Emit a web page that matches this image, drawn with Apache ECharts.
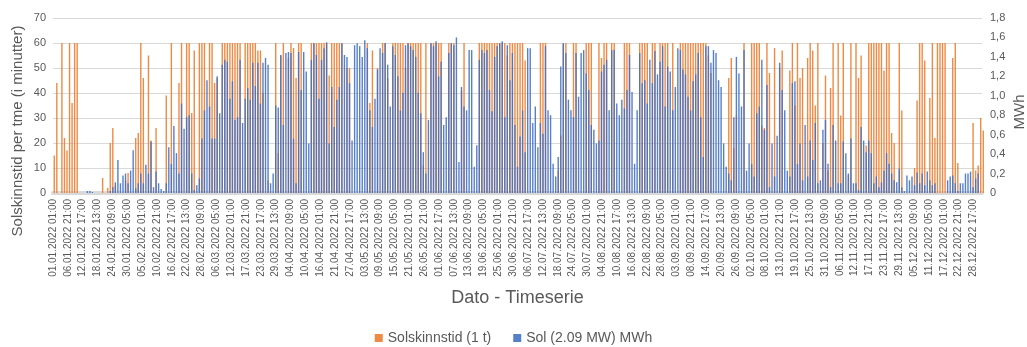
<!DOCTYPE html>
<html><head><meta charset="utf-8">
<script src="https://cdn.jsdelivr.net/npm/echarts@6/dist/echarts.min.js"></script>
<style>html,body{margin:0;padding:0;background:#fff}#c{width:1027px;height:347px}</style>
</head><body><div id="c"></div>
<script>
// Daily readings (one value per day of 2022)
var sunMinutes = [
15,44,0,60,22,17,60,36,60,60, 0,0,0,0,0,0,0,0,0,6, 0,2,20,26,3,0,0,0,5,8,
0,0,22,24,60,46, 0,55,21,0,26,0,0,0,39,0, 60,0,0,44,60,0,60,60,32,57, 0,60,60,60,0,60,60,44,46,0,
60,60,60,60,60,60,60, 60,0,60,60,60,60,60,57,57,40, 0,5,0,0,60,16,55,60,0,54, 60,58,46,60,60,0,0,0,60,60,
60,60,60,60,60,47,60,60, 60,60,60,0,50,50,0,0,0,0, 0,0,60,36,57,0,50,0,60,60, 46,0,60,60,60,60,60,50,60,60,
60,60,60,60,11,60,0, 60,60,60,60,60,0,0,60,60,60, 0,0,41,60,0,0,0,0,0,60, 60,60,60,60,60,60,60,60,60,60,
55,60,60,60,60,60,60,53, 0,0,0,0,0,60,60,60,0,0, 0,0,9,23,60,60,0,0,60,60, 0,0,0,60,60,60,0,0,60,54,
60,60,0,60,60,0,0,0, 60,60,60,0,0,0,60,60,60,60, 0,60,60,0,60,60,60,60,0,60, 0,0,60,60,60,60,60,60,60,60,
60,60,60,55,48,0,0,0,0,0, 0,46,54,18,31,0,0,60,0,0, 60,60,60,60,27,26,60,48,0,58, 0,50,57,0,0,49,60,35,60,46,
50,0,54,60,57,35,60,0, 20,47,9,42,60,0,60,31,60,0, 7,60,0,60,46,55,0,19,60,60, 60,60,60,60,49,60,60,24,20,0,
60,33,0,0,0,0,10, 37,60,60,53,0,38,60,22,60,60, 60,60,0,0,54,60,12,0,0,0, 0,0,28,9,11,30,25,10,0,0
];
var solarMWh = [
0,0,0,0,0,0,0,0,0,0, 0,0,0,0.02,0.02,0.01,0,0,0,0, 0,0,0.02,0.06,0.11,0.34,0.1,0.18,0.2,0.1,
0.23,0.44,0.05,0.1,0.2,0.1, 0.29,0.2,0.53,0.06,0.22,0.1,0.04,0.02,0.1,0.47, 0.3,0.69,0.41,0.2,0.92,0.66,0.78,0.8,0.2,0.03, 0.08,0.15,0.56,0.85,1.16,0.89,0.56,0.56,1.2,0.82,
1.32,1.37,1.35,0.97,1.15,0.75,0.78, 1.37,0.72,0.97,1.08,0.96,1.34,1.1,1.34,0.92,1.34, 1.39,1.32,0.1,0.2,0.9,0.88,1.42,0.7,1.44,1.45, 1.44,0.56,0.1,1.45,1.06,1.45,1.25,0.51,1.37,1.54,
1.42,0.97,1.37,1.49,1.55,0.51,1.09,0.68, 0.96,1.09,1.54,1.42,1.4,1.13,0.54,1.52,1.54,1.51, 1.4,1.57,1.49,0.85,0.68,0.97,1.27,1.49,1.44,1.54, 1.32,0.89,1.51,1.42,1.2,0.85,1.03,1.52,1.54,1.51,
1.47,1.4,1.03,0.82,0.42,0.2,0.75, 1.54,1.51,1.56,1.2,1.35,0.7,0.78,1.44,1.54,1.52, 1.6,0.32,1.09,0.89,0.85,1.47,1.47,0.27,0.49,1.37, 1.47,1.44,1.47,1.06,0.84,1.4,1.51,1.54,1.56,0.78,
1.52,1.16,1.44,0.7,0.27,0.58,0.85,0.42, 1.49,1.49,0.72,0.89,0.47,0.72,0.61,1.51,0.85,0.8, 0.3,0.17,0.37,1.3,1.54,1.44,0.96,0.85,0.78,1.44, 0.99,1.44,1.47,1.23,1.06,0.7,0.65,0.51,0.54,1.25,
1.32,1.37,0.85,1.47,1.47,0.92,0.8,0.96, 0.87,1.06,1.42,1.04,0.3,0.85,1.44,1.13,1.16,0.92, 1.37,1.13,1.46,1.22,1.35,1.51,0.89,1.3,1.25,0.85, 1.09,1.49,1.47,1.27,1.22,0.99,0.85,1.15,1.22,1.44,
0.78,0.37,1.51,1.51,1.34,1.47,1.44,1.16,1.09,0.51, 0.27,0.2,0.13,0.78,1.4,1.23,0.89,1.47,0.23,0.51, 0.3,0.17,0.82,0.89,1.37,0.65,1.11,0.06,0.51,0.17, 0.59,1.34,1.06,0.85,0.23,0.17,1.13,1.15,0.3,0.51,
0.13,0.7,0.17,0.54, 0.34,0.72,0.1,0.13,0.65,0.75,0.3,0.06,0.7,0.54, 0.1,0.1,0.53,0.41,0.2,0.56,0.1,0.1,0.03,0.68, 0.54,0.42,0.54,0.41,0.1,0.17,0.06,0.11,0.23,0.41,
0.3,0.2,0.13,0.11,0.25,0.06,0.02, 0.18,0.13,0.17,0.08,0.21,0.1,0.2,0.08,0.22,0.13, 0.08,0.1,0,0,0,0,0.13,0.17,0.18,0.1, 0.02,0.1,0.1,0.2,0.2,0.22,0.06,0.15,0.2,0
];
var seriesNames = ['Solskinnstid (1 t)', 'Sol (2.09 MW) MWh'];
var leftTicks = {min: 0, max: 70, step: 10};
var rightTicks = {min: 0, max: 1.8, step: 0.2};
var hoursInYear = 8760, labelStepHours = 140;

function hourLabel(h) {
  var d = new Date(Date.UTC(2022, 0, 1, 1) + h * 3600000);
  function p(n){return (n < 10 ? '0' : '') + n;}
  return p(d.getUTCDate()) + '.' + p(d.getUTCMonth() + 1) + '.' + d.getUTCFullYear() + ' ' + p(d.getUTCHours()) + ':00';
}
var sunData = sunMinutes.map(function(v, i){ return [i * 24 + 12, v]; });
var solData = solarMWh.map(function(v, i){ return [i * 24 + 12, v]; });

var txt = '#595959', font = 'Liberation Sans';
var chart = echarts.init(document.getElementById('c'), null, {renderer: 'canvas'});
chart.setOption({
  animation: false,
  textStyle: {fontFamily: font},
  grid: {left: 53, right: 45, top: 18, bottom: 154, containLabel: false, outerBoundsMode: 'none'},
  legend: {
    top: 326, left: 'center', itemGap: 22, itemWidth: 8, itemHeight: 8, icon: 'rect',
    textStyle: {color: txt, fontSize: 14, fontFamily: font},
    data: seriesNames
  },
  graphic: [{
    type: 'text', x: 18, y: 131, rotation: Math.PI / 2,
    style: {text: 'Solskinnstid per tme (i minutter)', fill: txt, font: '15px "Liberation Sans"',
      textAlign: 'center', textVerticalAlign: 'middle'}
  }, {
    type: 'text', x: 1020, y: 112, rotation: Math.PI / 2,
    style: {text: 'MWh', fill: txt, font: '15px "Liberation Sans"',
      textAlign: 'center', textVerticalAlign: 'middle'}
  }],
  xAxis: {
    type: 'value', min: 0, max: hoursInYear, interval: labelStepHours,
    name: 'Dato - Timeserie', nameLocation: 'middle', nameGap: 96,
    nameTextStyle: {color: txt, fontSize: 18, fontFamily: font},
    axisLine: {show: true, lineStyle: {color: '#D9D9D9', width: 4}},
    axisTick: {show: false},
    splitLine: {show: false},
    axisLabel: {rotate: 90, color: txt, fontSize: 10, fontFamily: font, margin: 6,
      showMaxLabel: false, formatter: function(v){ return hourLabel(v); }}
  },
  yAxis: [{
    type: 'value', min: leftTicks.min, max: leftTicks.max, interval: leftTicks.step,
    axisLine: {show: false}, axisTick: {show: false},
    splitLine: {lineStyle: {color: '#D9D9D9', width: 1}},
    axisLabel: {color: txt, fontSize: 11, fontFamily: font, margin: 7}
  }, {
    type: 'value', min: rightTicks.min, max: rightTicks.max, interval: rightTicks.step,
    axisLine: {show: false}, axisTick: {show: false}, splitLine: {show: false},
    axisLabel: {color: txt, fontSize: 11, fontFamily: font, margin: 8,
      formatter: function(v){ return v === 0 ? '0' : (Math.round(v * 10) / 10).toFixed(1).replace('.', ','); }}
  }],
  series: [{
    name: seriesNames[0], type: 'bar', xAxisIndex: 0, yAxisIndex: 0,
    data: sunData, barWidth: 1.4, barGap: '-100%',
    itemStyle: {color: '#ED7D31', opacity: 0.9}
  }, {
    name: seriesNames[1], type: 'bar', xAxisIndex: 0, yAxisIndex: 1,
    data: solData, barWidth: 1.4, barGap: '-100%',
    itemStyle: {color: '#4472C4', opacity: 0.9}
  }]
});
</script>
</body></html>
